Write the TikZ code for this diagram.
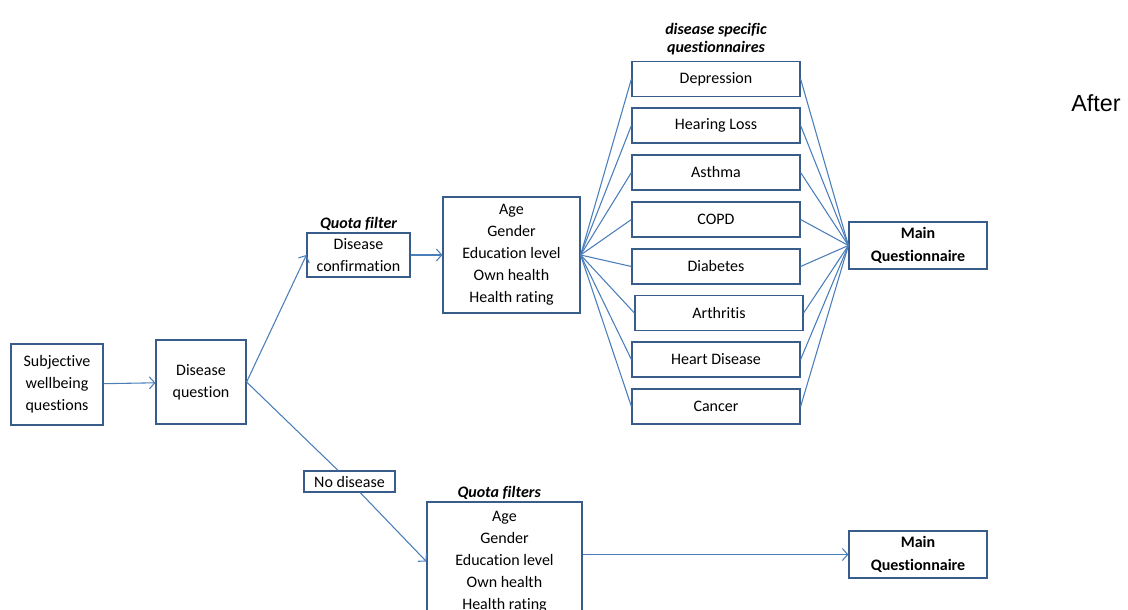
\documentclass[tikz,border=0pt]{standalone}
\usepackage{fontspec}
\setmainfont{Carlito}[Ligatures=NoCommon]
\newfontfamily\arialfont{Liberation Sans}
\usetikzlibrary{arrows.meta,positioning}
\definecolor{boxblue}{RGB}{56,93,138}
\definecolor{lineblue}{RGB}{74,126,187}

\begin{document}
\begin{tikzpicture}[x=0.75pt, y=-0.75pt, >={Straight Barb[length=4pt,width=9pt]}]
    \tikzstyle{box}=[rectangle, draw=boxblue, fill=white, line width=0.9pt, align=center, inner sep=1pt, font=\fontsize{12}{16.5}\selectfont]
    \tikzstyle{sq}=[box, minimum width=126pt, minimum height=26.25pt]
    \tikzstyle{mainq}=[box, minimum width=103.5pt, minimum height=35.25pt, font=\fontsize{12}{17}\selectfont\bfseries]
    \tikzstyle{lbl}=[font=\fontsize{12}{14}\selectfont\bfseries\itshape, inner sep=1pt, align=center]
    \tikzstyle{link}=[draw=lineblue, line width=0.8pt]
    \clip (0,0) rectangle (1128,610);

    % left part
    \node[box, minimum width=69pt, minimum height=60.75pt] (subj) at (57,384.5) {Subjective\\wellbeing\\questions};
    \node[box, minimum width=67.5pt, minimum height=63pt] (dq) at (201,382) {Disease\\question};
    \node[box, minimum width=77.25pt, minimum height=33pt] (conf) at (358.5,255) {Disease\\confirmation};
    \node[lbl, anchor=south] (qf1) at (conf.north) {Quota filter};
    \node[box, minimum width=102.75pt, minimum height=87pt] (filt1) at (511.5,255) {Age\\Gender\\Education level\\Own health\\Health rating};

    % disease specific questionnaires
    \node[sq] (dep) at (716,79) {Depression};
    \node[sq] (hear) at (716,125.5) {Hearing Loss};
    \node[sq] (asth) at (716,172.5) {Asthma};
    \node[sq] (copd) at (716,219.5) {COPD};
    \node[sq] (diab) at (716,266.5) {Diabetes};
    \node[sq] (arth) at (719,313) {Arthritis};
    \node[sq] (heart) at (716,359.5) {Heart Disease};
    \node[sq] (canc) at (716,406.5) {Cancer};
    \node[lbl, anchor=south] (dsq) at (716,57) {disease specific\\questionnaires};

    \node[mainq] (main1) at (918,245.5) {Main\\Questionnaire};
    \node[font=\arialfont\fontsize{17.5}{20}\selectfont] (after) at (1096,103) {After};

    % no disease branch
    \node[box, minimum width=68.25pt, minimum height=15.75pt] (nodis) at (349.5,481.5) {No disease};
    \node[box, minimum width=116.25pt, minimum height=89.25pt] (filt2) at (504.5,561.5) {Age\\Gender\\Education level\\Own health\\Health rating};
    \node[lbl, anchor=south] (qf2) at ([xshift=-4pt]filt2.north) {Quota filters};
    \node[mainq] (main2) at (918,554.5) {Main\\Questionnaire};

    \draw[link] (subj) edge[->] (dq);
    \draw[link] (dq.east) edge[->] (conf.west);
    \draw[link] (dq.east) -- (nodis);
    \draw[link] (nodis) edge[->] (filt2.west);
    \draw[link] (conf) edge[->] (filt1);
    \draw[link] (filt1.east) edge (dep.west) edge (hear.west) edge (asth.west) edge (copd.west)
        edge (diab.west) edge (arth.west) edge (heart.west) edge (canc.west);
    \draw[link] (main1.west) edge (dep.east) edge (hear.east) edge (asth.east) edge (copd.east)
        edge (diab.east) edge (arth.east) edge (heart.east) edge (canc.east);
    \draw[link] (filt2.east |- main2.west) edge[->] (main2.west);
\end{tikzpicture}
\end{document}
